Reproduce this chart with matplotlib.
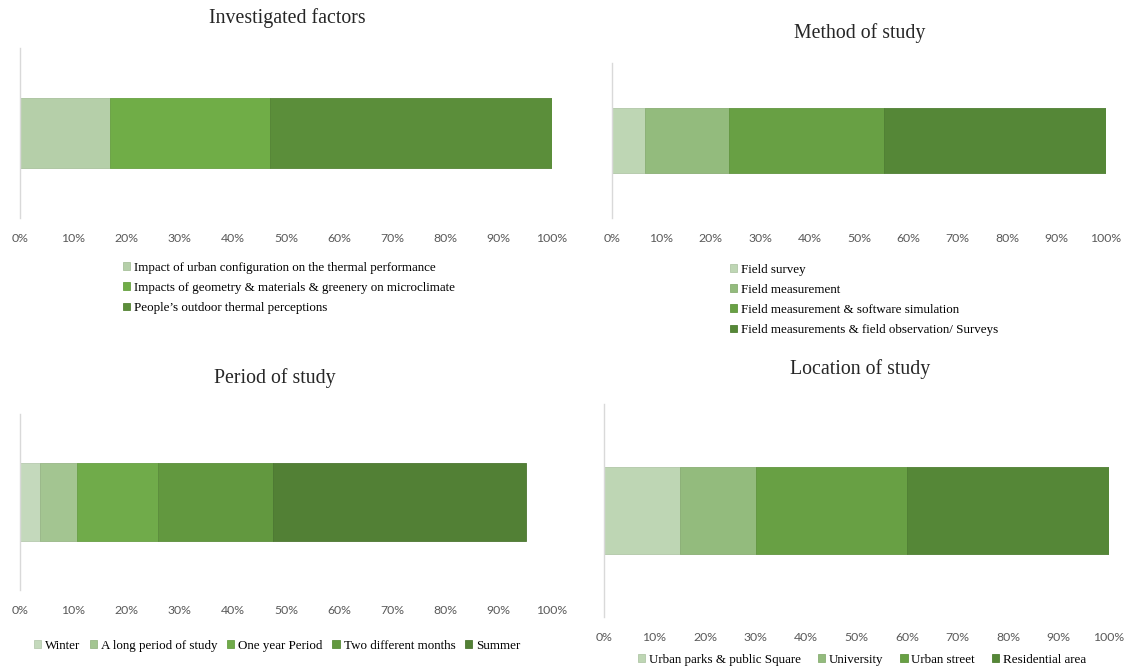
import matplotlib
matplotlib.use("Agg")
import matplotlib.pyplot as plt
import matplotlib.colors as mcolors

# data (percent share of studies)
factors = ["Impact of urban configuration on the thermal performance",
           "Impacts of geometry & materials & greenery on microclimate",
           "People\u2019s outdoor thermal perceptions"]
factors_pct = [17, 30, 53]

methods = ["Field survey",
           "Field measurement",
           "Field measurement & software simulation",
           "Field measurements & field observation/ Surveys"]
methods_pct = [6.7, 17, 31.3, 45]

periods = ["Winter", "A long period of study", "One year Period",
           "Two different months", "Summer"]
periods_pct = [3.8, 6.9, 15.3, 21.6, 47.6]

locations = ["Urban parks & public Square", "University", "Urban street",
             "Residential area"]
locations_pct = [15, 15, 30, 40]

tick_labels = ["0%", "10%", "20%", "30%", "40%", "50%", "60%", "70%",
               "80%", "90%", "100%"]

colors3 = ["#B5CFA9", "#70AD47", "#5B8E3A"]
colors4 = ["#BED6B4", "#93BB7D", "#68A044", "#558737"]
colors5 = ["#C4D9BC", "#A3C591", "#70AB4A", "#62983F", "#528035"]

W, H = 1128, 671
fig = plt.figure(figsize=(W / 100, H / 100), dpi=100)

SERIF = "Liberation Serif"
SANS = "Lato"


def darker(c, f=0.93):
    r, g, b = mcolors.to_rgb(c)
    return (r * f, g * f, b * f)


def make_axes(x0, x1, y0, y1):
    return fig.add_axes([x0 / W, 1 - y1 / H, (x1 - x0) / W, (y1 - y0) / H])


def stacked(ax, labels, vals, cols, height):
    left = 0
    for lab, v, c in zip(labels, vals, cols):
        ax.barh(0, v, left=left, height=height, color=c,
                edgecolor=darker(c), linewidth=0.6, label=lab)
        left += v
    ax.set_xlim(0, 100)
    ax.set_ylim(-0.5, 0.5)
    ax.set_yticks([])
    ax.set_xticks(range(0, 101, 10))
    ax.set_xticklabels(tick_labels, fontfamily=SANS, fontsize=8.8, color="#595959")
    ax.tick_params(axis="x", length=0, pad=11)
    for s in ["top", "right", "bottom"]:
        ax.spines[s].set_visible(False)
    ax.spines["left"].set_color("#D9D9D9")
    ax.spines["left"].set_linewidth(1)


def legend(ax, cx, cy, ncol, colsp=1.3):
    h, l = ax.get_legend_handles_labels()
    fig.legend(h, l, loc="center", bbox_to_anchor=(cx / W, 1 - cy / H),
               ncol=ncol, frameon=False,
               prop={"family": SERIF, "size": 9.4},
               handlelength=0.55, handleheight=0.55, handletextpad=0.3,
               labelspacing=0.62, columnspacing=colsp, borderpad=0)


# Investigated factors
ax1 = make_axes(20, 552, 48, 218)
stacked(ax1, factors, factors_pct, colors3, 0.41)
fig.text(287 / W, 1 - 18 / H, "Investigated factors", ha="center", va="center",
         fontfamily=SERIF, fontsize=14.3, color="#262626")
legend(ax1, 289, 288, 1)

# Method of study
ax2 = make_axes(612, 1106, 63, 218)
stacked(ax2, methods, methods_pct, colors4, 0.42)
fig.text(860 / W, 1 - 33 / H, "Method of study", ha="center", va="center",
         fontfamily=SERIF, fontsize=14.3, color="#262626")
legend(ax2, 864, 300, 1)

# Period of study
ax3 = make_axes(20, 552, 414, 590)
stacked(ax3, periods, periods_pct, colors5, 0.44)
fig.text(275 / W, 1 - 378 / H, "Period of study", ha="center", va="center",
         fontfamily=SERIF, fontsize=14.3, color="#262626")
legend(ax3, 277, 646, 5, colsp=0.75)

# Location of study
ax4 = make_axes(604, 1109, 404, 617)
stacked(ax4, locations, locations_pct, colors4, 0.41)
fig.text(860 / W, 1 - 369 / H, "Location of study", ha="center", va="center",
         fontfamily=SERIF, fontsize=14.3, color="#262626")
legend(ax4, 862, 660, 4)

fig.savefig("out.png", dpi=100)
